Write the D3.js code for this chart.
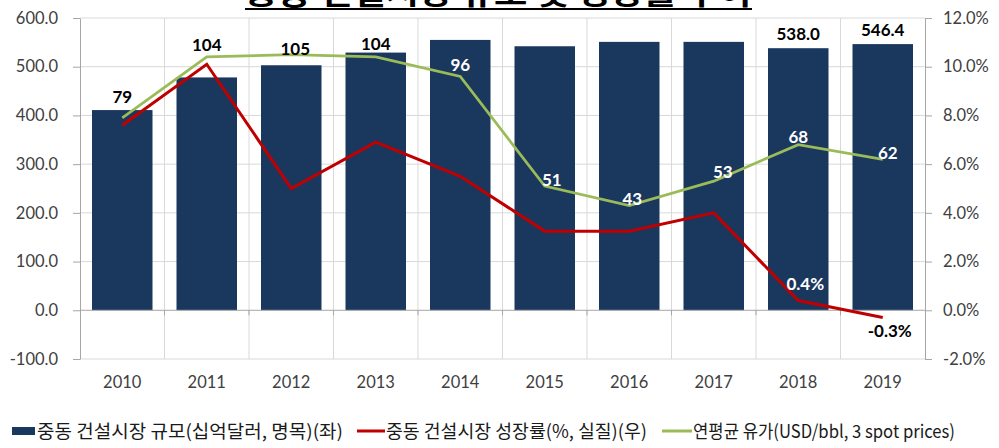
<!DOCTYPE html>
<html>
<head>
<meta charset="utf-8">
<script src="https://cdn.jsdelivr.net/npm/d3@7"></script>
<style>
html, body { margin: 0; padding: 0; background: #fff; }
svg { display: block; }
</style>
</head>
<body>
<svg id="chart" width="999" height="448"></svg>
<script>
'use strict';

var title = '중동 건설시장 규모 및 성장률 추이';
var years = ['2010', '2011', '2012', '2013', '2014', '2015', '2016', '2017', '2018', '2019'];
// 중동 건설시장 규모 (십억달러, 명목) - left axis
var marketSize = [411, 478, 503, 529, 555, 542, 551, 551, 538.0, 546.4];
// 중동 건설시장 성장률 (%, 실질) - right axis
var growthRate = [7.6, 10.1, 5.0, 6.9, 5.5, 3.25, 3.25, 4.0, 0.4, -0.3];
// 연평균 유가 (USD/bbl) - drawn on the right axis at 1/10
var oilPrice = [79, 104, 105, 104, 96, 51, 43, 53, 68, 62];
var labelledYears = ['2018', '2019'];
var leftTicks = [-100, 0, 100, 200, 300, 400, 500, 600];
var rightTicks = [-2, 0, 2, 4, 6, 8, 10, 12];
var legendLabels = [
	'중동 건설시장 규모(십억달러, 명목)(좌)',
	'중동 건설시장 성장률(%, 실질)(우)',
	'연평균 유가(USD/bbl, 3 spot prices)'
];

var opt = {
	left: 80, right: 925, top: 18, bottom: 359,
	bar: '#1a375e', red: '#c00000', green: '#9bbb59',
	grid: '#d9d9d9', axis: '#a6a6a6', text: '#404040',
	font: 'Lato, "Noto Sans", sans-serif',
	cjk: '"Noto Sans CJK KR", "Noto Sans", sans-serif'
};

// label nudges for the oil price points, [dx, dy] from the point
var oilLabelShift = [[0, -21], [0, -12], [4, -6], [0, -13], [0, -12], [7, -7], [3, -7], [9, -10], [0, -8], [5, -7]];

// d3.format uses a unicode minus, the source uses a plain hyphen
var fmt1 = function(v) { return d3.format('.1f')(v).replace('\u2212', '-'); };

var svg = d3.select('#chart');

var x = d3.scaleBand()
	.domain(years)
	.range([opt.left, opt.right])
	.paddingInner(0.284)
	.paddingOuter(0.142);
var step = x.step();
var cx = function(year) { return x(year) + x.bandwidth() / 2; };

var yL = d3.scaleLinear().domain([-100, 600]).range([opt.bottom, opt.top]);
var yR = d3.scaleLinear().domain([-2, 12]).range([opt.bottom, opt.top]);

var sizeData = years.map(function(y, i) { return { year: y, v: marketSize[i] }; });
var growthData = years.map(function(y, i) { return { year: y, v: growthRate[i] }; });
var oilData = years.map(function(y, i) { return { year: y, v: oilPrice[i], i: i }; });

/* grid */
var grid = svg.append('g');
grid.selectAll('line.h')
	.data(leftTicks.filter(function(t) { return t !== 0; }))
	.enter().append('line')
	.attr('x1', opt.left).attr('x2', opt.right)
	.attr('y1', function(d) { return yL(d); })
	.attr('y2', function(d) { return yL(d); })
	.attr('stroke', opt.grid).attr('stroke-width', 1);
grid.selectAll('line.v')
	.data(d3.range(1, years.length))
	.enter().append('line')
	.attr('x1', function(i) { return opt.left + i * step; })
	.attr('x2', function(i) { return opt.left + i * step; })
	.attr('y1', opt.top).attr('y2', opt.bottom)
	.attr('stroke', opt.grid).attr('stroke-width', 1);

/* bars */
svg.append('g').selectAll('rect')
	.data(sizeData)
	.enter().append('rect')
	.attr('x', function(d) { return x(d.year); })
	.attr('width', x.bandwidth())
	.attr('y', function(d) { return yL(d.v); })
	.attr('height', function(d) { return yL(0) - yL(d.v); })
	.attr('fill', opt.bar);

/* axes */
var styleAxis = function(g) {
	g.select('.domain').attr('stroke', opt.axis);
	g.selectAll('.tick line').attr('stroke', opt.axis);
	g.selectAll('.tick text')
		.attr('fill', opt.text)
		.style('font-family', opt.font)
		.style('font-size', '16.5px');
};

svg.append('g')
	.attr('transform', 'translate(' + opt.left + ',0)')
	.call(d3.axisLeft(yL)
		.tickValues(leftTicks)
		.tickFormat(fmt1)
		.tickSize(7).tickSizeOuter(0).tickPadding(15))
	.call(styleAxis);

svg.append('g')
	.attr('transform', 'translate(' + opt.right + ',0)')
	.call(d3.axisRight(yR)
		.tickValues(rightTicks)
		.tickFormat(function(d) { return fmt1(d) + '%'; })
		.tickSize(7).tickSizeOuter(0).tickPadding(11))
	.call(styleAxis)
	.selectAll('.tick text').attr('text-anchor', 'start');

// category axis on the zero line
var xa = svg.append('g');
xa.append('line')
	.attr('x1', opt.left).attr('x2', opt.right)
	.attr('y1', yL(0)).attr('y2', yL(0))
	.attr('stroke', opt.axis);
xa.selectAll('line.t')
	.data(d3.range(1, years.length))
	.enter().append('line')
	.attr('x1', function(i) { return opt.left + i * step; })
	.attr('x2', function(i) { return opt.left + i * step; })
	.attr('y1', yL(0)).attr('y2', yL(0) + 5)
	.attr('stroke', opt.axis);
xa.selectAll('text')
	.data(years)
	.enter().append('text')
	.attr('x', cx)
	.attr('y', 382)
	.attr('text-anchor', 'middle')
	.attr('dominant-baseline', 'central')
	.attr('fill', opt.text)
	.style('font-family', opt.font)
	.style('font-size', '16.5px')
	.text(function(d) { return d; });

/* lines */
var growthLine = d3.line()
	.x(function(d) { return cx(d.year); })
	.y(function(d) { return yR(d.v); });
var oilLine = d3.line()
	.x(function(d) { return cx(d.year); })
	.y(function(d) { return yR(d.v / 10); });

svg.append('path')
	.datum(growthData)
	.attr('d', growthLine)
	.attr('fill', 'none')
	.attr('stroke', opt.red)
	.attr('stroke-width', 3);

svg.append('path')
	.datum(oilData)
	.attr('d', oilLine)
	.attr('fill', 'none')
	.attr('stroke', opt.green)
	.attr('stroke-width', 2.75);

/* data labels */
var labels = svg.append('g')
	.style('font-family', opt.font)
	.style('font-size', '17px')
	.style('font-weight', 'bold')
	.attr('text-anchor', 'middle')
	.attr('dominant-baseline', 'central');

labels.selectAll('text.oil')
	.data(oilData)
	.enter().append('text')
	.attr('x', function(d) { return cx(d.year) + oilLabelShift[d.i][0]; })
	.attr('y', function(d) { return yR(d.v / 10) + oilLabelShift[d.i][1]; })
	.attr('fill', function(d) {
		var ly = yR(d.v / 10) + oilLabelShift[d.i][1];
		return ly < yL(marketSize[d.i]) ? '#000' : '#fff';
	})
	.text(function(d) { return d.v; });

labels.selectAll('text.size')
	.data(sizeData.filter(function(d) { return labelledYears.indexOf(d.year) >= 0; }))
	.enter().append('text')
	.attr('x', function(d) { return cx(d.year); })
	.attr('y', function(d) { return yL(d.v) - 15; })
	.attr('fill', '#000')
	.text(function(d) { return fmt1(d.v); });

labels.selectAll('text.growth')
	.data(growthData.filter(function(d) { return labelledYears.indexOf(d.year) >= 0; }))
	.enter().append('text')
	.attr('x', function(d) { return cx(d.year) + 7; })
	.attr('y', function(d) { return d.v >= 0 ? yR(d.v) - 17 : yR(d.v) + 13; })
	.attr('fill', function(d) { return d.v >= 0 ? '#fff' : '#000'; })
	.text(function(d) { return fmt1(d.v) + '%'; });

/* title, mostly cut off at the top edge */
svg.append('text')
	.attr('x', 498)
	.attr('y', 4)
	.attr('text-anchor', 'middle')
	.attr('textLength', 507)
	.attr('lengthAdjust', 'spacingAndGlyphs')
	.style('font-family', opt.cjk)
	.style('font-size', '30px')
	.style('font-weight', 'bold')
	.text(title);
svg.append('rect')
	.attr('x', 245).attr('y', 8)
	.attr('width', 507).attr('height', 2)
	.attr('fill', '#000');

/* legend */
var legendItems = [
	{ key: 'bar', color: opt.bar, x0: 12, x1: 35, tx: 37, tw: 306 },
	{ key: 'line', color: opt.red, x0: 357, x1: 385, tx: 386, tw: 261 },
	{ key: 'line', color: opt.green, x0: 662, x1: 692, tx: 693, tw: 262 }
];
var legend = svg.append('g');
legendItems.forEach(function(it, i) {
	if(it.key === 'bar') {
		legend.append('rect')
			.attr('x', it.x0).attr('y', 427)
			.attr('width', it.x1 - it.x0).attr('height', 8)
			.attr('fill', it.color);
	}
	else {
		legend.append('line')
			.attr('x1', it.x0).attr('x2', it.x1)
			.attr('y1', 431).attr('y2', 431)
			.attr('stroke', it.color).attr('stroke-width', 3);
	}
	legend.append('text')
		.attr('x', it.tx)
		.attr('y', 438)
		.attr('textLength', it.tw)
		.attr('lengthAdjust', 'spacingAndGlyphs')
		.attr('fill', '#1a1a1a')
		.style('font-family', opt.cjk)
		.style('font-size', '18px')
		.text(legendLabels[i]);
});
</script>
</body>
</html>
